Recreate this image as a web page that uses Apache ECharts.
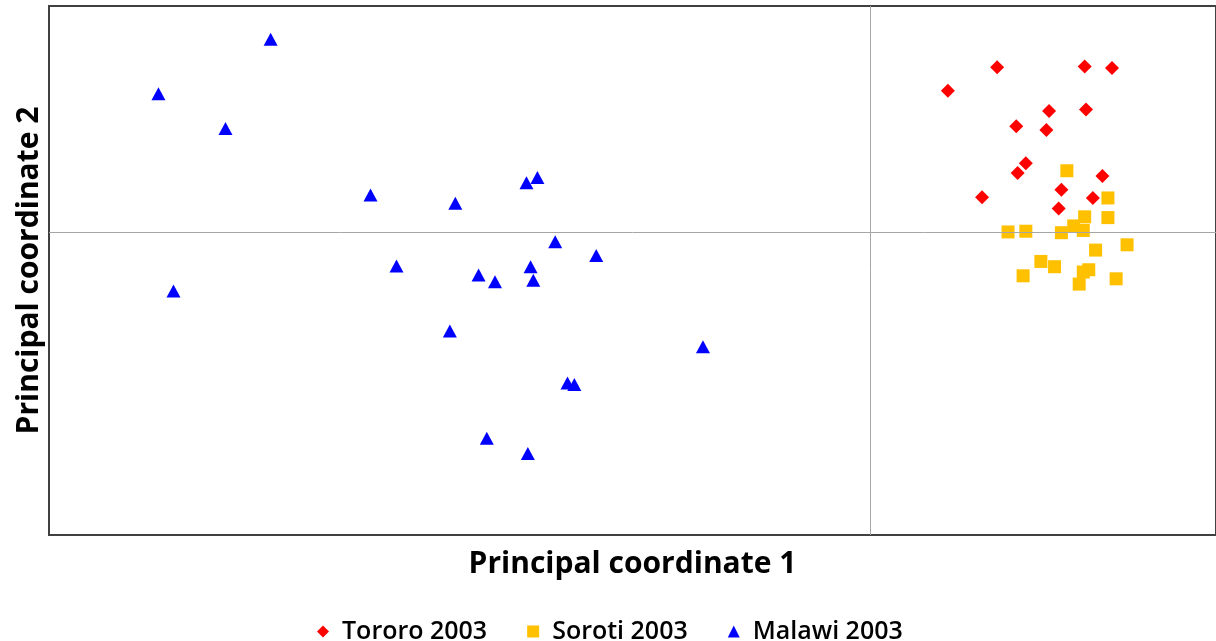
<!DOCTYPE html>
<html>
<head>
<meta charset="utf-8">
<script src="https://cdn.jsdelivr.net/npm/echarts@6/dist/echarts.min.js"></script>
<style>
  html, body { margin: 0; padding: 0; background: #fff; }
  #chart { width: 1216px; height: 641px; }
</style>
</head>
<body>
<div id="chart"></div>
<script>
// point values: [coordinate 1, coordinate 2]
const tororo = [
  [0.093, 0.219], [0.157, 0.220], [0.177, 0.218], [0.057, 0.188], [0.131, 0.161],
  [0.158, 0.163], [0.107, 0.141], [0.129, 0.136], [0.114, 0.092], [0.108, 0.079],
  [0.170, 0.075], [0.140, 0.057], [0.082, 0.047], [0.163, 0.046], [0.138, 0.032]
];
const soroti = [
  [0.144, 0.082], [0.174, 0.046], [0.157, 0.021], [0.174, 0.020], [0.149, 0.009],
  [0.156, 0.003], [0.101, 0.001], [0.114, 0.002], [0.140, 0.000], [0.188, -0.016],
  [0.165, -0.023], [0.125, -0.038], [0.135, -0.045], [0.160, -0.049], [0.156, -0.052],
  [0.112, -0.057], [0.180, -0.061], [0.153, -0.068]
];
const malawi = [
  [-0.438, 0.256], [-0.520, 0.184], [-0.471, 0.138], [-0.365, 0.050], [-0.303, 0.039],
  [-0.251, 0.066], [-0.243, 0.073], [-0.230, -0.012], [-0.200, -0.030], [-0.346, -0.044],
  [-0.286, -0.056], [-0.274, -0.065], [-0.248, -0.045], [-0.246, -0.063], [-0.509, -0.077],
  [-0.307, -0.130], [-0.122, -0.151], [-0.221, -0.199], [-0.216, -0.201], [-0.280, -0.272],
  [-0.250, -0.292]
];
const seriesNames = ['Tororo 2003', 'Soroti 2003', 'Malawi 2003'];
const colors = ['#ff0000', '#ffc000', '#0000ff'];

const font = '"Open Sans", Lato, sans-serif';
const chart = echarts.init(document.getElementById('chart'));

const hiddenAxis = (name, gap) => ({
  type: 'value',
  name: name,
  nameLocation: 'middle',
  nameGap: gap,
  nameTextStyle: { fontFamily: font, fontWeight: 'bold', fontSize: 30, color: '#000' },
  axisLine: { show: false },
  axisTick: { show: false },
  axisLabel: { show: false },
  splitLine: { show: false }
});

chart.setOption({
  animation: false,
  color: colors,
  grid: {
    left: 49, right: -6, top: 6, bottom: 106,
    show: true, borderColor: '#404040', borderWidth: 2
  },
  xAxis: Object.assign(hiddenAxis('Principal coordinate 1', 14), { min: -0.6, max: 0.253 }),
  yAxis: Object.assign(hiddenAxis('Principal coordinate 2', 5), { min: -0.4, max: 0.3 }),
  legend: {
    left: 312, top: 614,
    itemWidth: 12, itemHeight: 12, itemGap: 40,
    symbolKeepAspect: true,
    textStyle: { fontFamily: font, fontSize: 25, color: '#000', fontWeight: 600, padding: [0, 0, 0, 8] },
    data: [
      { name: seriesNames[0], icon: 'diamond' },
      { name: seriesNames[1], icon: 'rect' },
      { name: seriesNames[2], icon: 'triangle' }
    ]
  },
  series: [
    {
      name: seriesNames[0], type: 'scatter', symbol: 'diamond', symbolSize: 14, data: tororo,
      itemStyle: { opacity: 1 },
      markLine: {
        silent: true, symbol: 'none', label: { show: false },
        lineStyle: { color: '#a6a6a6', type: 'solid', width: 1 },
        data: [{ xAxis: 0 }, { yAxis: 0 }]
      },
      z: 3
    },
    {
      name: seriesNames[1], type: 'scatter', symbol: 'rect', symbolSize: 13, data: soroti,
      itemStyle: { opacity: 1 }, z: 2
    },
    {
      name: seriesNames[2], type: 'scatter', symbol: 'triangle', symbolSize: [14, 13], data: malawi,
      itemStyle: { opacity: 1 }, z: 2
    }
  ]
});
</script>
</body>
</html>
